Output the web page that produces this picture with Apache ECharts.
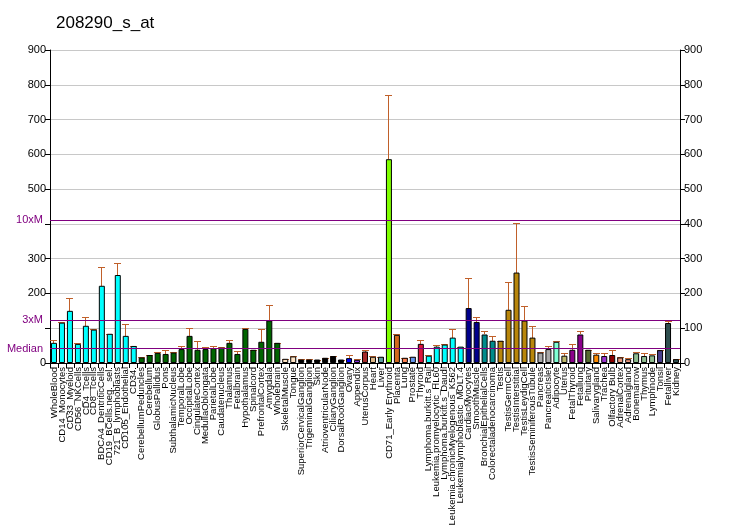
<!DOCTYPE html>
<html>
<head>
<meta charset="utf-8">
<script src="https://cdn.jsdelivr.net/npm/echarts@6/dist/echarts.min.js"></script>
<style>html,body{margin:0;padding:0;background:#fff}#c{width:732px;height:530px}</style>
</head>
<body>
<div id="c"></div>
<script>
const titleText = '208290_s_at';
const categories = ['WholeBlood','CD14_Monocytes','CD33_Myeloid','CD56_NKCells','CD4_Tcells','CD8_Tcells','BDCA4_DentriticCells','CD19_BCells.neg._sel.','721_B_lymphoblasts','CD105_Endothelial','CD34.',
'CerebellumPeduncles','Cerebellum','GlobusPallidus','Pons','SubthalamicNucleus','TemporalLobe','OccipitalLobe','CingulateCortex','MedullaOblongata','ParietalLobe','Caudatenucleus','Thalamus','Fetalbrain','Hypothalamus','Spinalcord','PrefrontalCortex','Amygdala','Wholebrain',
'SkeletalMuscle','Tongue',
'SuperiorCervicalGanglion','TrigeminalGanglion','Skin','AtrioventricularNode','CiliaryGanglion','DorsalRootGanglion',
'Ovary','Appendix','UterusCorpus','Heart','Liver',
'CD71_Early Erythroid','Placenta','Lung','Prostate','Thyroid',
'Lymphoma.burkitt.s_Raji','Leukemia.promyelocytic_HL60','Lymphoma.burkitt.s_Daudi','Leukemia.chronicMyelogenous_K562','Leukemialymphoblastic_MOLT.4',
'CardiacMyocytes','SmoothMuscle','BronchialEpithelialCells','Colorectaladenocarcinoma',
'Testis','TestisGermCell','TestisInterstitial','TestisLeydigCell','TestisSeminiferousTubule',
'Pancreas','PancreaticIslet','Adipocyte','Uterus','FetalThyroid','Fetallung','Pituitary','Salivarygland','Trachea','Olfactory Bulb','AdrenalCortex','Adrenalgland','Bonemarrow','Thymus','Lymphnode','Tonsil','Fetalliver','Kidney'];
const values = [58,116,150,55,107,96,222,84,253,78,49,
16,23,29,26,30,40,78,38,40,43,44,58,26,98,38,61,122,58,
12,19,
10,10,10,15,20,10,
14,9,33,18,18,
586,81,15,18,55,
21,47,53,73,47,
158,118,82,64,
64,153,260,122,73,
30,40,61,21,38,82,38,24,20,23,16,11,28,20,22,37,115,11];
const errorTops = [66,118,187,58,132,99,277,84,288,112,50,
17,23,31,37,32,49,101,64,46,49,46,66,35,100,38,97,167,58,
12,21,
12,12,10,15,20,10,
23,11,38,20,18,
770,83,15,18,66,
22,52,55,99,47,
245,132,92,79,
64,234,403,164,107,
32,50,62,29,55,92,38,29,29,38,16,13,31,28,25,37,121,11];
const barColors = ['#00FFFF','#00FFFF','#00FFFF','#00FFFF','#00FFFF','#00FFFF','#00FFFF','#00FFFF','#00FFFF','#00FFFF','#00FFFF',
'#006400','#006400','#006400','#006400','#006400','#006400','#006400','#006400','#006400','#006400','#006400','#006400','#006400','#006400','#006400','#006400','#006400','#006400',
'#FFE4C4','#FFE4C4',
'#000000','#000000','#000000','#000000','#000000','#000000',
'#0000FF','#8A2BE2','#A52A2A','#DEB887','#5F9EA0',
'#7FFF00','#D2691E','#FF7F50','#6495ED','#DC143C',
'#00FFFF','#00FFFF','#00FFFF','#00FFFF','#00FFFF',
'#00008B','#00008B','#008B8B','#008B8B',
'#B8860B','#B8860B','#B8860B','#B8860B','#B8860B',
'#A9A9A9','#A9A9A9','#7FFFD4','#BDB76B','#8B008B','#8B008B','#556B2F','#FF8C00','#9932CC','#8B0000','#E9967A','#E9967A','#8FBC8F','#8FBC8F','#8FBC8F','#483D8B','#2F4F4F','#2F4F4F'];
const medianValue = 41.1;
const refLines = [{name:'Median', value: medianValue},{name:'3xM', value: medianValue*3},{name:'10xM', value: medianValue*10}];

const chart = echarts.init(document.getElementById('c'));
const font = 'Liberation Sans, Arial, sans-serif';
const errColor = '#C0602A';
chart.setOption({
  animation: false,
  title: {text: titleText, left: 51, top: 10, textStyle: {fontSize: 17, fontWeight: 'normal', color: '#000', fontFamily: font}},
  grid: {left: 50, right: 52, top: 50, bottom: 167},
  xAxis: {
    type: 'category', data: categories,
    axisLine: {lineStyle: {color: '#000'}},
    axisTick: {show: true, interval: 0, length: 5, lineStyle: {color: '#000'}},
    axisLabel: {interval: 0, rotate: 90, fontSize: 9.5, color: '#000', fontFamily: font, margin: 4}
  },
  yAxis: [{
    type: 'value', min: 0, max: 900, interval: 100, position: 'left',
    axisLine: {show: true, lineStyle: {color: '#000'}},
    axisTick: {show: true, length: 5, lineStyle: {color: '#000'}},
    axisLabel: {fontSize: 11, color: '#000', fontFamily: font, margin: 4,
      formatter: v => (v === 100 || v === 400) ? '' : String(v)},
    splitLine: {show: true, lineStyle: {color: '#C8C8C8'}}
  },{
    type: 'value', min: 0, max: 900, interval: 100, position: 'right',
    axisLine: {show: true, lineStyle: {color: '#000'}},
    axisTick: {show: true, length: 5, lineStyle: {color: '#000'}},
    axisLabel: {fontSize: 11, color: '#000', fontFamily: font, margin: 4},
    splitLine: {show: false}
  }],
  series: [{
    type: 'bar', barWidth: 6,
    data: values.map((v, i) => ({value: v, itemStyle: {color: barColors[i], borderColor: '#000', borderWidth: 1}})),
    markLine: {
      silent: true, symbol: 'none',
      lineStyle: {color: '#800080', type: 'solid', width: 1},
      label: {position: 'start', distance: 7, color: '#800080', fontSize: 11, fontFamily: font, formatter: p => p.name},
      data: refLines.map(r => ({name: r.name, yAxis: r.value}))
    },
    z: 2
  },{
    type: 'custom',
    data: values.map((v, i) => [i, v, errorTops[i]]),
    itemStyle: {color: errColor},
    renderItem: function (params, api) {
      const b = api.coord([api.value(0), api.value(1)]);
      const t = api.coord([api.value(0), api.value(2)]);
      const x = Math.floor(b[0]);
      const ty = Math.round(t[1]);
      const by = Math.round(b[1]);
      const st = {fill: errColor, stroke: null};
      return {type: 'group', children: [
        {type: 'rect', shape: {x: x, y: ty, width: 1, height: Math.max(0, by - ty)}, style: st},
        {type: 'rect', shape: {x: x - 3, y: ty, width: 7, height: 1}, style: st}
      ]};
    },
    z: 1
  }]
});
</script>
</body>
</html>
